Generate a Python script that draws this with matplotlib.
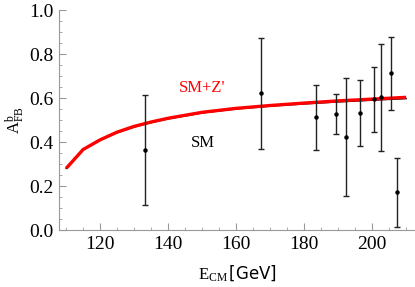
import numpy as np
import matplotlib.pyplot as plt

plt.rcParams['font.family'] = 'Liberation Serif'
plt.rcParams['mathtext.fontset'] = 'custom'
plt.rcParams['mathtext.rm'] = 'Liberation Serif'
plt.rcParams['mathtext.it'] = 'Liberation Serif'
plt.rcParams['mathtext.sf'] = 'DejaVu Sans'

# theory curves
e_curve = [110, 115, 120, 125, 130, 135, 140, 150, 160, 170, 180, 190, 200, 210]
afb_sm = [0.28, 0.365, 0.408, 0.442, 0.468, 0.488, 0.505, 0.532, 0.550, 0.563, 0.573, 0.582, 0.590, 0.597]
afb_zp = [0.28, 0.366, 0.410, 0.445, 0.471, 0.491, 0.508, 0.535, 0.553, 0.566, 0.577, 0.587, 0.595, 0.603]

# measurements
e_data = [133.1, 167.4, 183.4, 189.4, 192.4, 196.5, 200.5, 202.6, 205.6, 207.4]
afb_data = [0.364, 0.621, 0.512, 0.526, 0.423, 0.533, 0.594, 0.603, 0.712, 0.171]
afb_err = [0.25, 0.253, 0.148, 0.09, 0.267, 0.15, 0.148, 0.242, 0.165, 0.156]

fig = plt.figure(figsize=(4.15, 2.87), dpi=100)
ax = fig.add_axes([0.143, 0.1986, 0.857, 0.7665])

ax.plot(e_curve, afb_zp, color='red', lw=2.4, solid_capstyle='butt', zorder=2)
ax.plot(e_curve, afb_sm, color='black', lw=1.0, zorder=1.5)
ax.errorbar(e_data, afb_data, yerr=afb_err, fmt='o', color='black', ecolor='#222222',
            ms=2.2, elinewidth=1.0, capsize=2.5, capthick=1.0, zorder=3)

ax.text(150, 0.645, "SM+Z'", color='red', fontsize=12, ha='center', va='center')
ax.text(150.3, 0.395, "SM", color='black', fontsize=12, ha='center', va='center')

ax.set_xlim(108, 212.6)
ax.set_ylim(0, 1.0)
ax.set_xticks([120, 140, 160, 180, 200])
ax.set_xticks(np.arange(110, 212, 5), minor=True)
ax.set_yticks([0.0, 0.2, 0.4, 0.6, 0.8, 1.0])
ax.set_yticks(np.arange(0, 1.0001, 0.05), minor=True)
ax.set_yticklabels(['0.0', '0.2', '0.4', '0.6', '0.8', '1.0'])

for s in ['top', 'right']:
    ax.spines[s].set_visible(False)
for s in ['left', 'bottom']:
    ax.spines[s].set_color('#999999')
    ax.spines[s].set_linewidth(0.8)
ax.tick_params(which='major', direction='in', length=5, color='#999999', width=0.8,
               labelsize=14, pad=4)
ax.tick_params(which='minor', direction='in', length=2.5, color='#999999', width=0.6)

ax.set_xlabel(r'$\mathrm{E_{CM}}\,\mathsf{[GeV]}$', fontsize=12, labelpad=8)
ax.set_ylabel(r'$\mathrm{A_{FB}^{b}}$', fontsize=12, labelpad=2)

plt.savefig('out.png', dpi=100)
